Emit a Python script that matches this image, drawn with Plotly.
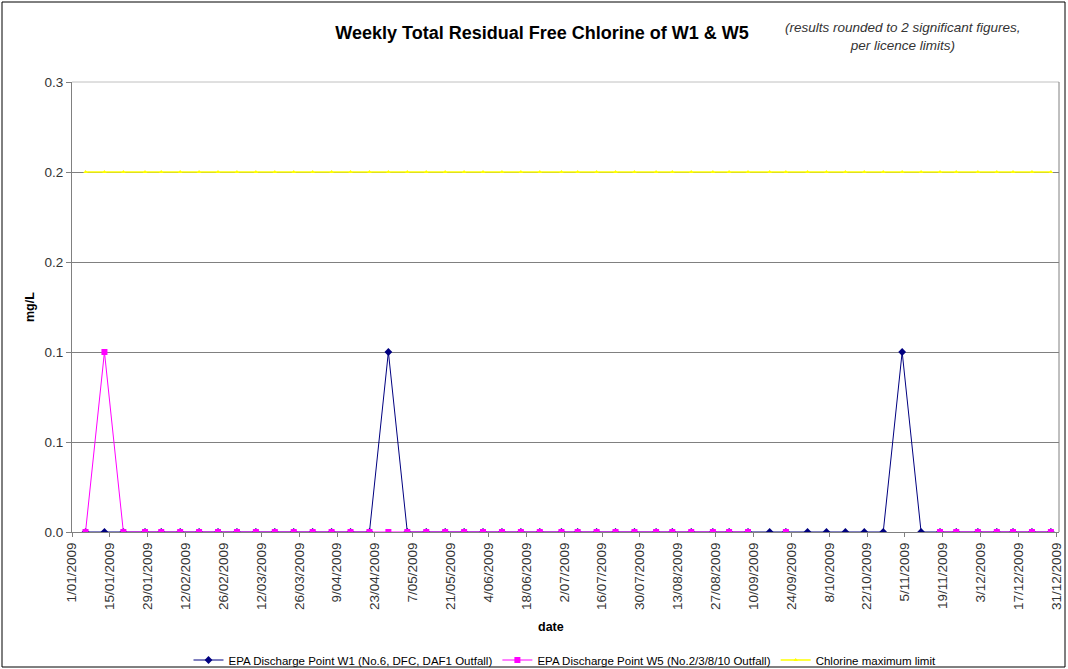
import plotly.graph_objects as go

# ---- data ----
dates = [
    "2009-01-06", "2009-01-13", "2009-01-20", "2009-01-28", "2009-02-03", "2009-02-10",
    "2009-02-17", "2009-02-24", "2009-03-03", "2009-03-10", "2009-03-17", "2009-03-24",
    "2009-03-31", "2009-04-07", "2009-04-14", "2009-04-21", "2009-04-28", "2009-05-05",
    "2009-05-12", "2009-05-19", "2009-05-26", "2009-06-02", "2009-06-09", "2009-06-16",
    "2009-06-23", "2009-07-01", "2009-07-07", "2009-07-14", "2009-07-21", "2009-07-28",
    "2009-08-05", "2009-08-11", "2009-08-18", "2009-08-26", "2009-09-01", "2009-09-08",
    "2009-09-16", "2009-09-22", "2009-09-30", "2009-10-07", "2009-10-14", "2009-10-21",
    "2009-10-28", "2009-11-04", "2009-11-11", "2009-11-18", "2009-11-24", "2009-12-02",
    "2009-12-09", "2009-12-15", "2009-12-22", "2009-12-29",
]

w1_values = [
    0, 0, 0, 0, 0, 0, 0, 0, 0, 0, 0, 0, 0, 0, 0, 0, 0.1, 0, 0, 0, 0, 0, 0, 0, 0, 0,
    0, 0, 0, 0, 0, 0, 0, 0, 0, 0, 0, 0, 0, 0, 0, 0, 0, 0.1, 0, 0, 0, 0, 0, 0, 0, 0,
]

w5_values = [
    0, 0.1, 0, 0, 0, 0, 0, 0, 0, 0, 0, 0, 0, 0, 0, 0, 0, 0, 0, 0, 0, 0, 0, 0, 0, 0,
    0, 0, 0, 0, 0, 0, 0, 0, 0, 0, None, 0, None, None, None, None, None, None, None, 0,
    0, 0, 0, 0, 0, 0,
]

limit_values = [0.2] * len(dates)

y_tick_vals = [0, 0.05, 0.1, 0.15, 0.2, 0.25]
y_tick_text = ["0.0", "0.1", "0.1", "0.2", "0.2", "0.3"]

series_names = [
    "EPA Discharge Point W1 (No.6, DFC, DAF1 Outfall)",
    "EPA Discharge Point W5 (No.2/3/8/10 Outfall)",
    "Chlorine maximum limit",
]

FONT = "Arial, 'Liberation Sans', sans-serif"

fig = go.Figure()
fig.add_trace(go.Scatter(
    x=dates, y=w1_values, name=series_names[0], mode="lines+markers",
    line=dict(color="#000080", width=1),
    marker=dict(symbol="diamond", size=6, color="#000080"),
))
fig.add_trace(go.Scatter(
    x=dates, y=w5_values, name=series_names[1], mode="lines+markers",
    line=dict(color="#FF00FF", width=1), connectgaps=False,
    marker=dict(symbol="square", size=6, color="#FF00FF"),
))
fig.add_trace(go.Scatter(
    x=dates, y=limit_values, name=series_names[2], mode="lines+markers",
    line=dict(color="#FFFF00", width=1.5),
    marker=dict(symbol="triangle-up", size=4, color="#FFFF00"),
))

L, R, T, B = 72, 9, 82, 137
W, H = 1068, 669
pw, ph = W - L - R, H - T - B

def px(x):
    return (x - L) / pw

def py(y):
    return (H - B - y) / ph

fig.update_layout(
    width=W, height=H,
    margin=dict(l=L, r=R, t=T, b=B, autoexpand=False),
    paper_bgcolor="white", plot_bgcolor="white",
    font=dict(family=FONT, size=12, color="#333333"),
    title=dict(
        text="<b>Weekly Total Residual Free Chlorine of W1 & W5</b>",
        x=542 / W, xanchor="center", y=1 - 33 / H, yanchor="middle",
        font=dict(family=FONT, size=18, color="#000000"),
    ),
    showlegend=True,
    legend=dict(
        orientation="h", x=px(565), xanchor="center", y=py(660), yanchor="middle",
        font=dict(family=FONT, size=11.5, color="#000000"),
        itemwidth=30, bgcolor="rgba(0,0,0,0)",
        traceorder="normal",
    ),
    xaxis=dict(
        type="date",
        range=["2009-01-01", "2010-01-01"],
        tick0="2009-01-01", dtick=14 * 86400000,
        tickformat="%-d/%m/%Y", tickangle=-90,
        ticks="outside", ticklen=4, tickcolor="#808080",
        showline=True, linecolor="#808080", linewidth=1,
        showgrid=False, zeroline=False,
        tickfont=dict(family=FONT, size=13.5, color="#333333"),
    ),
    yaxis=dict(
        range=[0, 0.25],
        tickvals=y_tick_vals, ticktext=y_tick_text,
        ticks="outside", ticklen=5, tickcolor="#808080",
        showline=True, linecolor="#808080", linewidth=1,
        showgrid=True, gridcolor="#808080", gridwidth=1,
        zeroline=False,
        tickfont=dict(family=FONT, size=13.5, color="#333333"),
    ),
    shapes=[
        dict(type="line", xref="paper", yref="paper", x0=0, x1=1, y0=1, y1=1,
             line=dict(color="#C0C0C0", width=1), layer="above"),
        dict(type="line", xref="paper", yref="paper", x0=1, x1=1, y0=0, y1=1,
             line=dict(color="#808080", width=1), layer="above"),
        dict(type="rect", xref="paper", yref="paper",
             x0=px(2), x1=px(1065), y0=py(667), y1=py(2),
             line=dict(color="#000000", width=1), layer="above"),
    ],
    annotations=[
        dict(text="<i>(results rounded to 2 significant figures,<br>per licence limits)</i>",
             xref="paper", yref="paper", x=px(903), y=py(36), xanchor="center",
             yanchor="middle", showarrow=False, align="center",
             font=dict(family=FONT, size=13.5, color="#333333")),
        dict(text="<b>mg/L</b>", xref="paper", yref="paper", x=px(30), y=py(307),
             xanchor="center", yanchor="middle", textangle=-90, showarrow=False,
             font=dict(family=FONT, size=12.5, color="#000000")),
        dict(text="<b>date</b>", xref="paper", yref="paper", x=px(551), y=py(627),
             xanchor="center", yanchor="middle", showarrow=False,
             font=dict(family=FONT, size=12.5, color="#000000")),
    ],
)

fig.write_html(
    "out.html",
    config={"displayModeBar": False},
    post_script="document.body.style.margin='0';document.body.style.overflow='hidden';",
)
